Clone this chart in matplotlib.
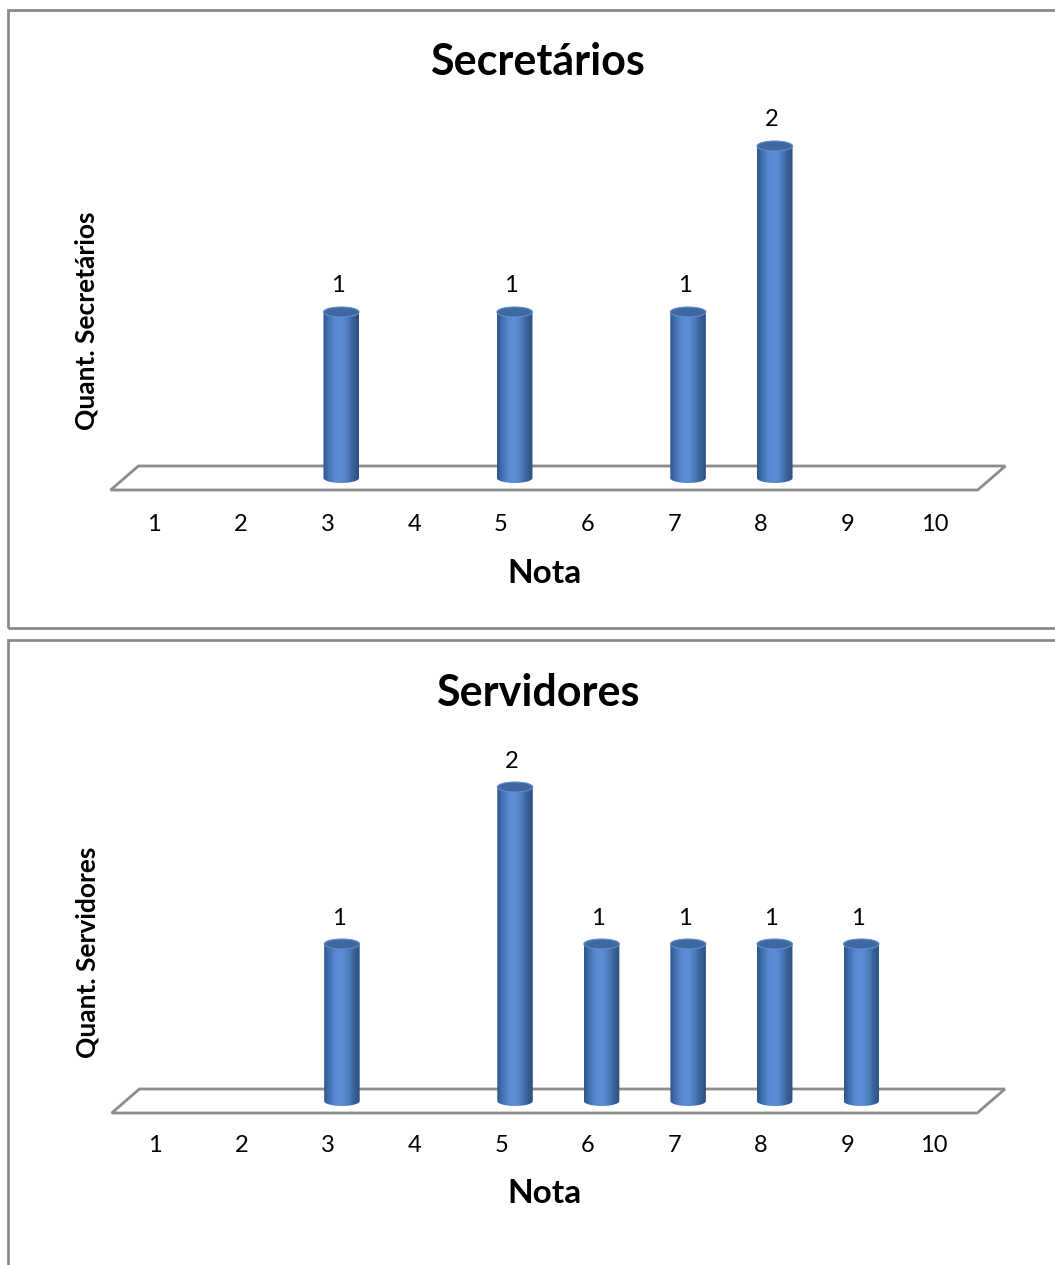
import numpy as np
import matplotlib
matplotlib.use("Agg")
from matplotlib import pyplot as plt
from matplotlib.patches import Polygon, Ellipse, Rectangle
from matplotlib.colors import LinearSegmentedColormap

plt.rcParams['font.family'] = ['Lato', 'DejaVu Sans']

notas = [1, 2, 3, 4, 5, 6, 7, 8, 9, 10]
secretarios = [0, 0, 1, 0, 1, 0, 1, 2, 0, 0]
servidores = [0, 0, 1, 0, 2, 1, 1, 1, 1, 0]

W, H = 1055, 1265
fig = plt.figure(figsize=(W / 100, H / 100), dpi=100)

cyl_cmap = LinearSegmentedColormap.from_list(
    'cyl', ['#2f5689', '#4575b8', '#5a8bd2', '#5e8fd6', '#4f7fc2', '#3b6399', '#2c4f80'])
grad = np.linspace(0, 1, 64).reshape(1, -1)

shift = 0.16     # bars sit halfway back on the floor
half_w = 0.205   # cylinder radius in category units


def cylinder(ax, xc, v, e):
    t = np.linspace(np.pi, 2 * np.pi, 40)
    bottom = np.column_stack([xc + half_w * np.cos(t), e / 2 * np.sin(t)])
    outline = np.vstack([bottom, [[xc + half_w, v], [xc - half_w, v]]])
    body = Polygon(outline, closed=True, fc='none', ec='none')
    ax.add_patch(body)
    im = ax.imshow(grad, cmap=cyl_cmap, aspect='auto', zorder=3,
                   extent=[xc - half_w, xc + half_w, -e, v], interpolation='bicubic')
    im.set_clip_path(body)
    ax.add_patch(Ellipse((xc, v), 2 * half_w, e, fc='#3f67a0', ec='#5f8fd0',
                         lw=0.8, zorder=4))


def panel(ax, values, title, ylabel, unit_px, title_y, xlab_y, ylab_y):
    d = 12 / unit_px
    e = 10 / unit_px
    floor = Polygon([(0.5, -d), (10.5, -d), (10.5 + 2 * shift, d), (0.5 + 2 * shift, d)],
                    closed=True, fc='white', ec='#8c8c8c', lw=2, zorder=1)
    ax.add_patch(floor)
    for n, v in zip(notas, values):
        if v > 0:
            cylinder(ax, n + shift, v, e)
            ax.text(n + shift - 0.04, v + 0.12, str(v), ha='center', va='baseline',
                    fontsize=17, color='black')
    ax.set_xlim(0.3, 11)
    ax.set_ylim(-0.2, 2.3)
    ax.set_xticks(notas)
    ax.set_xticklabels([str(n) for n in notas], fontsize=17)
    ax.set_yticks([])
    ax.tick_params(axis='x', length=0, pad=2)
    for s in ax.spines.values():
        s.set_visible(False)
    ax.text(0.479, title_y, title, transform=ax.transAxes, ha='center', va='baseline',
            fontsize=31, fontweight='bold')
    ax.set_xlabel('Nota', fontsize=24, fontweight='bold', va='baseline')
    ax.set_ylabel(ylabel, fontsize=19, fontweight='bold')
    ax.xaxis.set_label_coords(0.486, xlab_y)
    ax.yaxis.set_label_coords(0.006, ylab_y)


def add_axes_px(left, right, top, bottom):
    return fig.add_axes([left / W, 1 - bottom / H, (right - left) / W, (bottom - top) / H])


# axes boxes in pixels: xlim 0.3..11, ylim -0.2..2.3
ax1 = add_axes_px(93.3, 1021, 478 - 2.3 * 166, 478 + 0.2 * 166)
panel(ax1, secretarios, 'Secretários', 'Quant. Secretários', 166, 1.051, -0.173, 0.46)

ax2 = add_axes_px(94.4, 1020.5, 1101 - 2.3 * 157, 1101 + 0.2 * 157)
panel(ax2, servidores, 'Servidores', 'Quant. Servidores', 157, 1.0864, -0.18, 0.46)

# chart frames
fig.add_artist(Rectangle((8 / W, 1 - 628 / H), 1.2, (628 - 10) / H, transform=fig.transFigure,
                         fill=False, ec='#8a8a8a', lw=2))
fig.add_artist(Rectangle((8 / W, -0.2), 1.2, 0.2 + (H - 640) / H, transform=fig.transFigure,
                         fill=False, ec='#8a8a8a', lw=2))

fig.savefig('out.png', dpi=100)
